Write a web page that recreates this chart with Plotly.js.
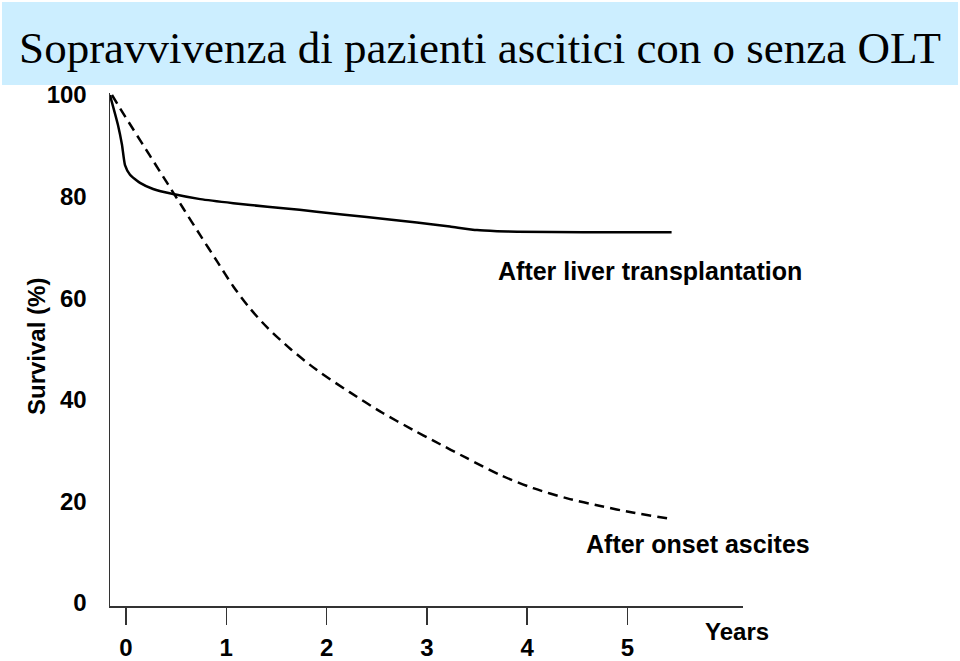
<!DOCTYPE html>
<html>
<head>
<meta charset="utf-8">
<script src="https://cdn.plot.ly/plotly-3.0.1.min.js"></script>
<style>html,body{margin:0;padding:0;background:#fff;}#chart{width:960px;height:661px;}</style>
</head>
<body>
<div id="chart"></div>
<script>
// Data (years, survival %)
var oltYears = [-0.16, -0.08, -0.04, -0.01, 0.04, 0.14, 0.27, 0.47, 0.74, 1.07, 1.41, 1.73, 1.90, 2.40, 2.90, 3.23, 3.50, 3.70, 3.90, 4.56, 5.44];
var oltSurvival = [100, 94.1, 90.2, 86.2, 84.3, 82.7, 81.5, 80.5, 79.5, 78.7, 78.0, 77.4, 77.0, 76.0, 74.9, 74.1, 73.4, 73.2, 73.1, 73.0, 73.0];

var ascitesYears = [-0.14, -0.06, 0.07, 0.24, 0.41, 0.57, 0.74, 0.91, 1.07, 1.24, 1.41, 1.64, 1.90, 2.23, 2.56, 2.86, 3.06, 3.40, 3.73, 4.06, 4.40, 4.73, 5.05, 5.42];
var ascitesSurvival = [100, 97.4, 93.3, 88.0, 82.7, 77.7, 72.4, 67.2, 62.3, 57.9, 54.2, 50.0, 45.9, 41.5, 37.4, 34.1, 32.0, 28.5, 25.2, 22.6, 20.6, 19.1, 17.8, 16.6];

var xTickVals = [0, 1, 2, 3, 4, 5];
var xTickText = ['0', '1', '2', '3', '4', '5'];
var yTickVals = [0, 20, 40, 60, 80, 100];
var yTickText = ['0', '20', '40', '60', '80', '100'];

var titleText = 'Sopravvivenza di pazienti ascitici con o senza OLT';
var yTitleText = 'Survival (%)';
var xTitleText = 'Years';
var oltLabel = 'After liver transplantation';
var ascitesLabel = 'After onset ascites';

// layout geometry (pixels)
var W = 960, H = 661;
var L = 110, R = 743, T = 93, B = 606;
function px(x) { return (x - L) / (R - L); }
function py(y) { return (B - y) / (B - T); }

var tickFont = {family: 'Liberation Sans, Arial, sans-serif', size: 24, color: '#000'};
var labelFont = {family: 'Liberation Sans, Arial, sans-serif', size: 25, color: '#000'};

var traces = [
  {x: oltYears, y: oltSurvival, type: 'scatter', mode: 'lines',
   line: {color: '#000', width: 2.5, shape: 'spline', smoothing: 0.5}, hoverinfo: 'skip', cliponaxis: false},
  {x: ascitesYears, y: ascitesSurvival, type: 'scatter', mode: 'lines',
   line: {color: '#000', width: 2.5, dash: '10px,6px', shape: 'spline', smoothing: 0.8}, hoverinfo: 'skip', cliponaxis: false}
];

var layout = {
  width: W, height: H,
  margin: {l: L, r: W - R, t: T, b: H - B, pad: 0},
  paper_bgcolor: '#fff', plot_bgcolor: '#fff',
  showlegend: false,
  title: {text: titleText, font: {family: 'Liberation Serif, Times New Roman, serif', size: 45, color: '#000'},
          x: 0.5, xref: 'container', xanchor: 'center', y: 1 - 47 / H, yref: 'container', yanchor: 'middle'},
  xaxis: {range: [-0.1595, 6.152], showgrid: false, zeroline: false, showline: true, linecolor: '#333', linewidth: 1.5,
          ticks: 'outside', ticklen: 17, tickwidth: 1.5, tickcolor: '#333',
          tickvals: xTickVals, ticktext: xTickText, tickfont: tickFont, ticklabelstandoff: 3, fixedrange: true},
  yaxis: {range: [-0.59, 100.39], showgrid: false, zeroline: false, showline: true, linecolor: '#333', linewidth: 1.5,
          ticks: '', tickvals: yTickVals, ticktext: yTickText, tickfont: tickFont, ticklabelstandoff: 17, fixedrange: true},
  shapes: [
    {type: 'rect', xref: 'paper', yref: 'paper', x0: px(2), x1: px(958), y0: py(85), y1: py(2),
     fillcolor: '#cceeff', line: {width: 0}, layer: 'below'}
  ],
  annotations: [
    {text: '<b>' + yTitleText + '</b>', xref: 'paper', yref: 'paper', x: px(36), y: py(347), textangle: -90,
     showarrow: false, font: tickFont, xanchor: 'center', yanchor: 'middle'},
    {text: '<b>' + xTitleText + '</b>', xref: 'paper', yref: 'paper', x: px(737), y: py(631),
     showarrow: false, font: tickFont, xanchor: 'center', yanchor: 'middle'},
    {text: '<b>' + oltLabel + '</b>', xref: 'paper', yref: 'paper', x: px(650), y: py(271),
     showarrow: false, font: labelFont, xanchor: 'center', yanchor: 'middle'},
    {text: '<b>' + ascitesLabel + '</b>', xref: 'paper', yref: 'paper', x: px(698), y: py(544),
     showarrow: false, font: labelFont, xanchor: 'center', yanchor: 'middle'}
  ]
};

// bold tick labels
layout.xaxis.ticktext = xTickText.map(function (t) { return '<b>' + t + '</b>'; });
layout.yaxis.ticktext = yTickText.map(function (t) { return '<b>' + t + '</b>'; });

Plotly.newPlot('chart', traces, layout, {displayModeBar: false, staticPlot: true});
</script>
</body>
</html>
